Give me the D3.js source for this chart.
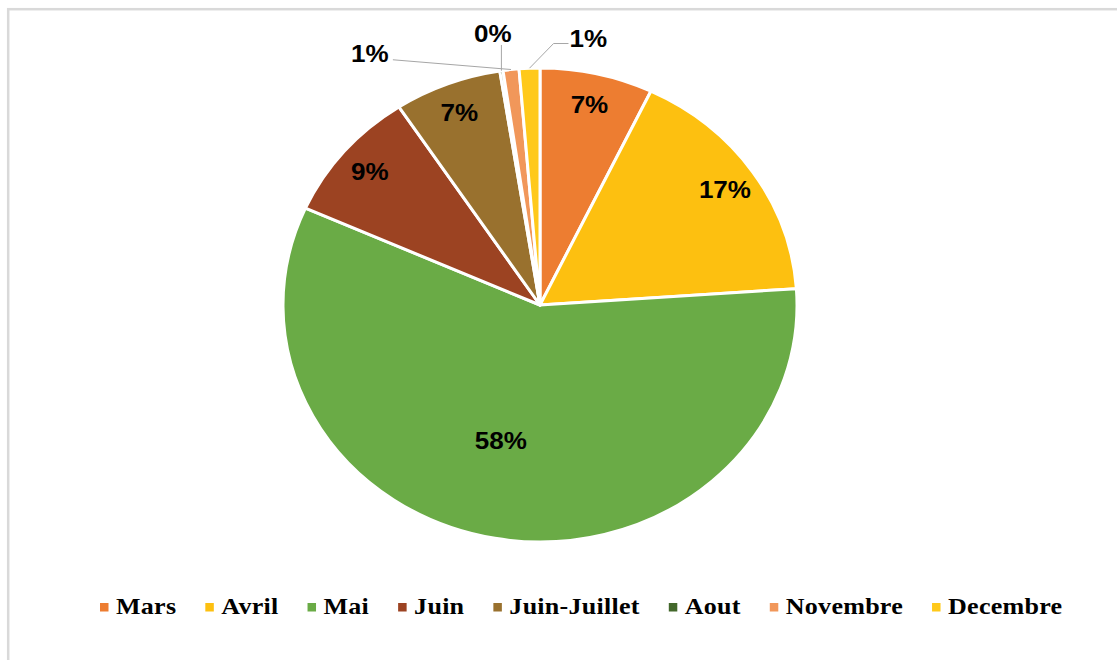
<!DOCTYPE html>
<html>
<head>
<meta charset="utf-8">
<script src="https://cdn.jsdelivr.net/npm/d3@7/dist/d3.min.js"></script>
<style>
  html, body { margin: 0; padding: 0; background: #ffffff; }
  svg { display: block; }
</style>
</head>
<body>
<svg id="chart" width="1117" height="660"></svg>
<script>
// Share of observations per month (percent)
const categories = ["Mars", "Avril", "Mai", "Juin", "Juin-Juillet", "Aout", "Novembre", "Decembre"];
const values = [7.1, 16.8, 57.8, 9.05, 6.75, 0.2, 1.0, 1.3];
const labels = ["7%", "17%", "58%", "9%", "7%", "0%", "1%", "1%"];
const colors = ["#ED7D31", "#FDC010", "#6AAB46", "#9C4322", "#99712E", "#43682B", "#F1975A", "#FFC91A"];

// Label placement: polar position (degrees clockwise from top, fraction of radius)
const labelPlacement = {
  "Mai": { angle: 195, r: 0.59 },
  "Aout": { angle: -9.1, r: 1.16, outside: true },
  "Novembre": { angle: -32.0, r: 1.25, outside: true },
  "Decembre": { angle: 9.5, r: 1.14, outside: true }
};

const W = 1117, H = 660;
const sx = 257 / 237;          // horizontal stretch of the drawing
const cx = 540 / sx, cy = 305, R = 237;

const svg = d3.select("#chart");
svg.append("rect").attr("width", W).attr("height", H).attr("fill", "#fff");

// chart frame
svg.append("rect")
  .attr("x", 8.2).attr("y", 9.2)
  .attr("width", 1300).attr("height", 900)
  .attr("fill", "none").attr("stroke", "#d9d9d9").attr("stroke-width", 2.5);

const root = svg.append("g").attr("transform", `scale(${sx},1)`);
const g = root.append("g").attr("transform", `translate(${cx},${cy})`);

const data = categories.map((c, i) => ({ name: c, value: values[i], label: labels[i], color: colors[i] }));

const pie = d3.pie().sort(null).value(d => d.value);
const arc = d3.arc().innerRadius(0).outerRadius(R);
const arcs = pie(data);

g.selectAll("path.slice")
  .data(arcs)
  .enter().append("path")
  .attr("class", "slice")
  .attr("d", arc)
  .attr("fill", d => d.data.color)
  .attr("stroke", "#ffffff")
  .attr("stroke-width", 3)
  .attr("stroke-linejoin", "round")
  .attr("vector-effect", "non-scaling-stroke");

const polar = (deg, r) => {
  const a = deg * Math.PI / 180;
  return [Math.sin(a) * r, -Math.cos(a) * r];
};

const labelFont = "'Liberation Sans', Arial, sans-serif";

arcs.forEach(d => {
  const mid = (d.startAngle + d.endAngle) / 2 * 180 / Math.PI;
  const p = labelPlacement[d.data.name] || { angle: mid, r: 0.87 };
  const [lx, ly] = polar(p.angle, p.r * R);

  const t = g.append("text")
    .attr("x", lx).attr("y", ly)
    .attr("text-anchor", "middle")
    .attr("dominant-baseline", "central")
    .attr("font-family", labelFont)
    .attr("font-weight", "bold")
    .attr("font-size", 24)
    .attr("fill", "#000")
    .text(d.data.label);

  if (p.outside) {
    const bb = t.node().getBBox();
    const [px, py] = polar(mid, R);
    let pts;
    if (px >= bb.x && px <= bb.x + bb.width + 4) {
      pts = [[px, bb.y + bb.height - 2], [px, py]];
    } else if (px > bb.x + bb.width) {
      pts = [[bb.x + bb.width + 4, ly + 6], [px, py]];
    } else {
      pts = [[bb.x - 1, ly + 5], [bb.x - 16 / sx, ly + 5], [px, py]];
    }
    g.append("path")
      .attr("d", d3.line()(pts))
      .attr("fill", "none")
      .attr("stroke", "#a6a6a6")
      .attr("stroke-width", 1)
      .attr("vector-effect", "non-scaling-stroke");
  }
});

// legend
const legend = root.append("g");
let x = 100 / sx;
const legendY = 614;
data.forEach(d => {
  legend.append("rect")
    .attr("x", x).attr("y", 603)
    .attr("width", 8.5 / sx).attr("height", 8.5)
    .attr("fill", d.color);
  const t = legend.append("text")
    .attr("x", x + 16 / sx).attr("y", legendY)
    .attr("font-family", "'Liberation Serif', 'Times New Roman', serif")
    .attr("font-weight", "bold")
    .attr("font-size", 24)
    .attr("letter-spacing", 0.25)
    .attr("fill", "#000")
    .text(d.name);
  x += 16 / sx + t.node().getComputedTextLength() + 29 / sx;
});
</script>
</body>
</html>
